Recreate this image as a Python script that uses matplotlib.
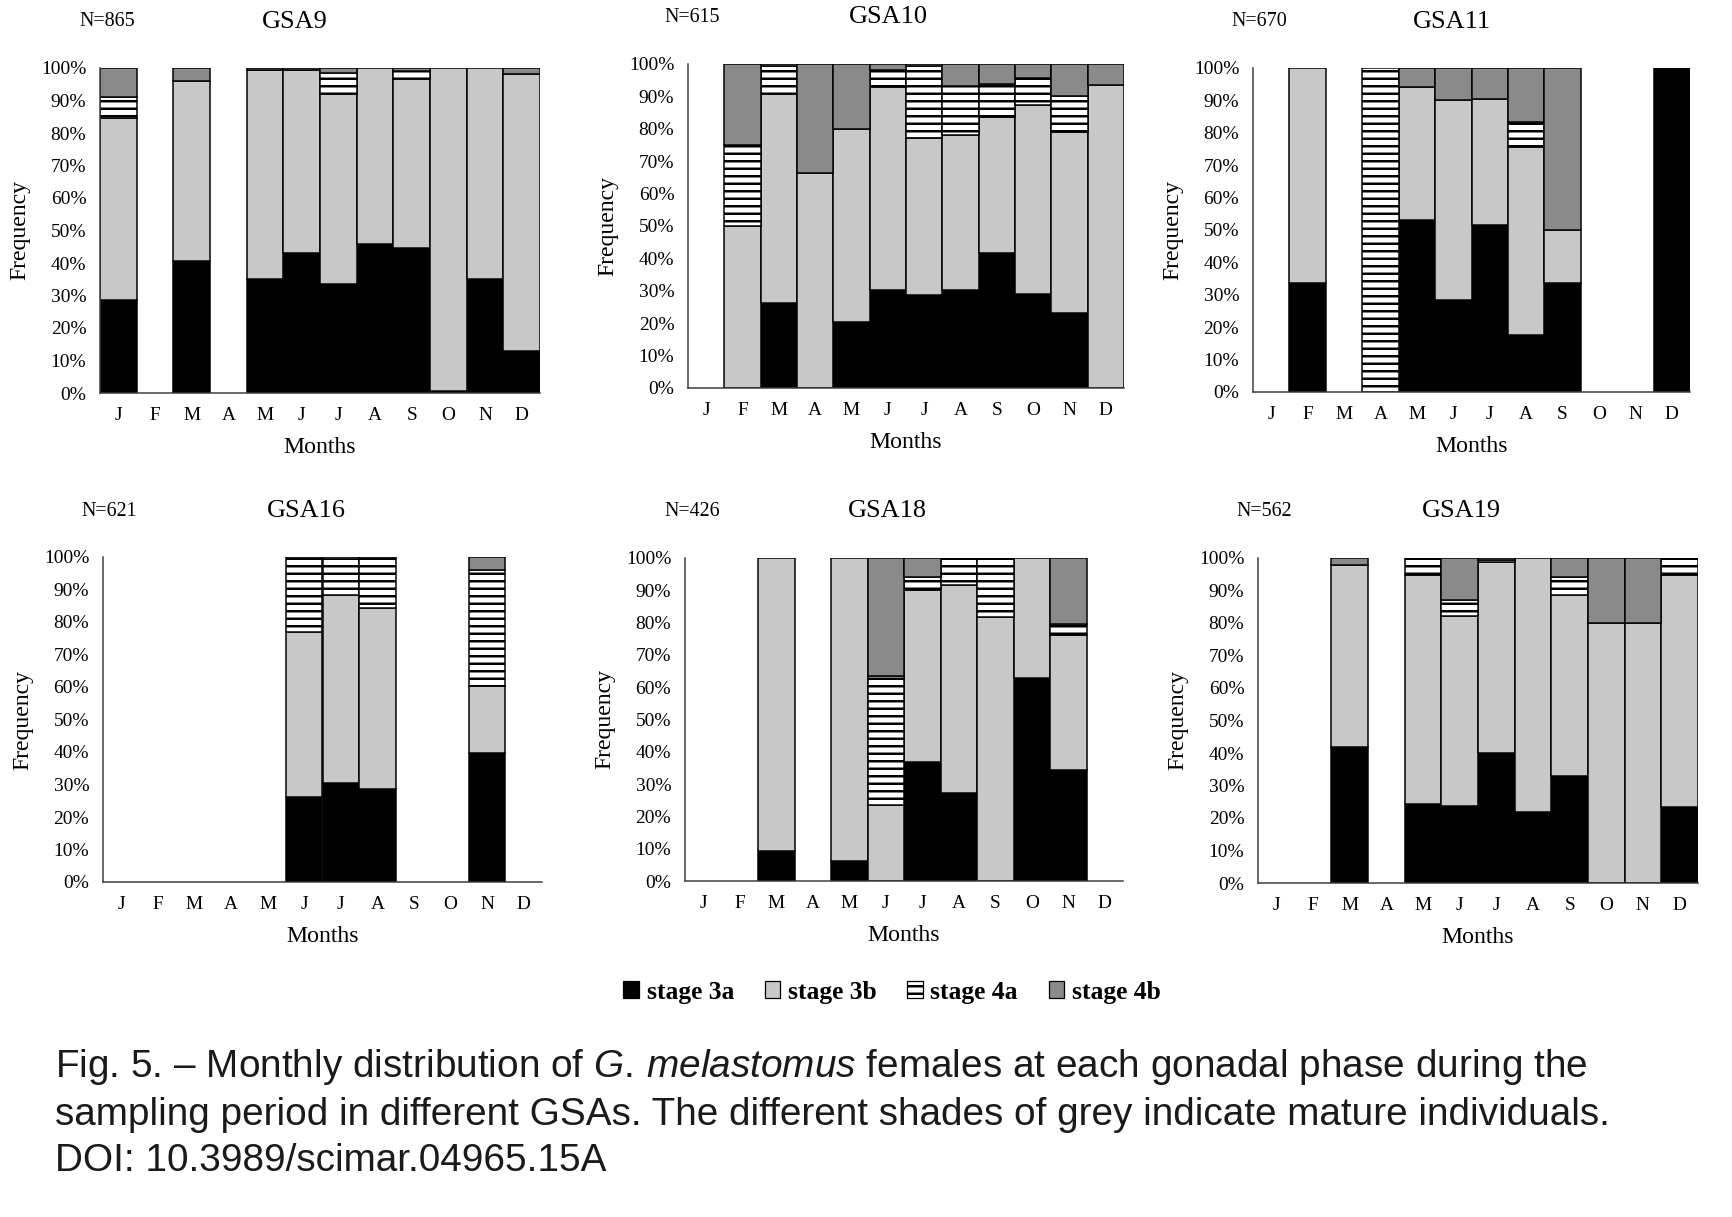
import numpy as np
import matplotlib
matplotlib.use("Agg")
import matplotlib.pyplot as plt
from matplotlib.patches import Patch

plt.rcParams['font.family'] = ['Liberation Serif', 'DejaVu Serif']
plt.rcParams['hatch.linewidth'] = 2.0
plt.rcParams['mathtext.fontset'] = 'custom'
plt.rcParams['mathtext.rm'] = 'Liberation Sans'
plt.rcParams['mathtext.it'] = 'Liberation Sans:italic'

months = ['J', 'F', 'M', 'A', 'M', 'J', 'J', 'A', 'S', 'O', 'N', 'D']
stage_names = ['stage 3a', 'stage 3b', 'stage 4a', 'stage 4b']

# percentages per month (0 = no sample that month)
gsa9_3a = [28.5, 0, 40.5, 0, 35, 43, 33.5, 46, 44.5, 0.5, 35, 13]
gsa9_3b = [56, 0, 55.5, 0, 64.3, 56.3, 58.5, 54, 52.2, 99.5, 65, 85.3]
gsa9_4a = [6.5, 0, 0, 0, 0, 0, 6.5, 0, 2.5, 0, 0, 0]
gsa9_4b = [9, 0, 4, 0, 0.7, 0.7, 1.5, 0, 0.8, 0, 0, 1.7]

gsa10_3a = [0, 0, 26.2, 0, 20.3, 30.2, 28.6, 30.2, 41.7, 29.1, 23.2, 0]
gsa10_3b = [0, 50, 64.6, 66.3, 59.6, 62.8, 48.5, 47.9, 41.9, 58.1, 55.8, 93.5]
gsa10_4a = [0, 25, 8.7, 0, 0, 5.2, 22.3, 15.1, 10.1, 8.4, 11.1, 0]
gsa10_4b = [0, 25, 0.5, 33.7, 20.1, 1.8, 0.6, 6.8, 6.3, 4.4, 9.9, 6.5]

gsa11_3a = [0, 33.6, 0, 0, 53.2, 28.4, 51.6, 17.7, 33.6, 0, 0, 100]
gsa11_3b = [0, 66.4, 0, 0, 40.8, 61.7, 38.9, 57.9, 16.5, 0, 0, 0]
gsa11_4a = [0, 0, 0, 100, 0, 0, 0, 7.6, 0, 0, 0, 0]
gsa11_4b = [0, 0, 0, 0, 6, 9.9, 9.5, 16.8, 49.9, 0, 0, 0]

gsa16_3a = [0, 0, 0, 0, 0, 26.2, 30.5, 28.5, 0, 0, 39.6, 0]
gsa16_3b = [0, 0, 0, 0, 0, 50.6, 57.9, 55.9, 0, 0, 20.8, 0]
gsa16_4a = [0, 0, 0, 0, 0, 23.2, 11.0, 15.6, 0, 0, 35.7, 0]
gsa16_4b = [0, 0, 0, 0, 0, 0, 0.6, 0, 0, 0, 3.9, 0]

gsa18_3a = [0, 0, 9.4, 0, 6.2, 0, 36.9, 27.3, 0, 63, 34.5, 0]
gsa18_3b = [0, 0, 90.6, 0, 93.8, 23.5, 53.1, 64.3, 81.8, 37, 41.6, 0]
gsa18_4a = [0, 0, 0, 0, 0, 40.1, 4.1, 8.4, 18.2, 0, 3.6, 0]
gsa18_4b = [0, 0, 0, 0, 0, 36.4, 5.9, 0, 0, 0, 20.3, 0]

gsa19_3a = [0, 0, 41.7, 0, 24.3, 23.7, 39.9, 21.9, 33, 0, 0, 23.4]
gsa19_3b = [0, 0, 56.2, 0, 70.6, 58.3, 58.8, 78.1, 55.7, 80, 80, 71.5]
gsa19_4a = [0, 0, 0, 0, 5.1, 5.2, 0.8, 0, 5.4, 0, 0, 5.1]
gsa19_4b = [0, 0, 2.1, 0, 0, 12.8, 0.5, 0, 5.9, 20, 20, 0]

panel_names = ['GSA9', 'GSA10', 'GSA11', 'GSA16', 'GSA18', 'GSA19']
sample_sizes = [865, 615, 670, 621, 426, 562]
panel_data = [
    (gsa9_3a, gsa9_3b, gsa9_4a, gsa9_4b),
    (gsa10_3a, gsa10_3b, gsa10_4a, gsa10_4b),
    (gsa11_3a, gsa11_3b, gsa11_4a, gsa11_4b),
    (gsa16_3a, gsa16_3b, gsa16_4a, gsa16_4b),
    (gsa18_3a, gsa18_3b, gsa18_4a, gsa18_4b),
    (gsa19_3a, gsa19_3b, gsa19_4a, gsa19_4b),
]

# layout in pixels: left, right, top(100%), bottom(0%), title x, N x, text y
W, H = 1732, 1217
boxes = [
    (100, 540, 68, 393, 295, 107, 22),
    (688, 1124, 64, 388, 888, 692, 17),
    (1253, 1690, 68, 392, 1452, 1259, 22),
    (103, 542, 557, 882, 306, 109, 511),
    (685, 1123, 558, 881, 887, 692, 511),
    (1258, 1698, 558, 883, 1461, 1264, 511),
]

fills = ['black', '#c8c8c8', 'white', '#8a8a8a']
hatches = [None, None, '--', None]

fig = plt.figure(figsize=(W / 90, H / 90), dpi=90)
x = np.arange(12)

for name, n, data, box in zip(panel_names, sample_sizes, panel_data, boxes):
    l, r, t, b, tx, nx, ty = box
    ax = fig.add_axes([l / W, 1 - b / H, (r - l) / W, (b - t) / H])
    vals = np.array(data, dtype=float)
    has = vals.sum(axis=0) > 0
    bottom = np.zeros(12)
    for i in range(4):
        h = vals[i]
        m = has & (h > 0)
        ax.bar(x[m], h[m], bottom=bottom[m], width=1.0, color=fills[i],
               edgecolor='black', linewidth=1.2, hatch=hatches[i])
        bottom += h
    ax.set_xlim(-0.5, 11.5)
    ax.set_ylim(0, 100)
    ax.set_yticks(np.arange(0, 101, 10))
    ax.set_yticklabels([f'{v}%' for v in range(0, 101, 10)])
    ax.set_xticks(x)
    ax.set_xticklabels(months)
    ax.tick_params(length=0, labelsize=15.5)
    ax.tick_params(axis='y', pad=11)
    ax.tick_params(axis='x', pad=11)
    for s in ['top', 'right']:
        ax.spines[s].set_visible(False)
    for s in ['left', 'bottom']:
        ax.spines[s].set_color('#3a3a3a')
        ax.spines[s].set_linewidth(1.2)
    ax.set_ylabel('Frequency', fontsize=19)
    ax.set_xlabel('Months', fontsize=19)
    ax.yaxis.set_label_coords(-70 / (r - l), 0.5)
    ax.xaxis.set_label_coords(0.5, -44 / (b - t))
    fig.text(tx / W, 1 - ty / H, name, fontsize=21, ha='center', va='center')
    fig.text(nx / W, 1 - ty / H, f'N={n}', fontsize=16, ha='center', va='center')

handles = [Patch(facecolor=f, edgecolor='black', hatch=h, linewidth=1)
           for f, h in zip(fills, hatches)]
fig.legend(handles, stage_names, loc='center', bbox_to_anchor=(892 / W, 1 - 992 / H),
           ncol=4, frameon=False, handlelength=0.6, handleheight=0.6,
           handletextpad=0.3, columnspacing=1.2,
           prop={'family': 'Liberation Serif', 'weight': 'bold', 'size': 20.5})

caption = [
    r'Fig. 5. – Monthly distribution of $\it{G.\,melastomus}$ females at each gonadal phase during the',
    'sampling period in different GSAs. The different shades of grey indicate mature individuals.',
    'DOI: 10.3989/scimar.04965.15A',
]
for line, yb in zip(caption, [1077, 1125, 1171]):
    fig.text(55 / W, 1 - yb / H, line, fontsize=31, family='Liberation Sans',
             ha='left', va='baseline', color='#1a1a1a')

fig.savefig('out.png', dpi=90)
